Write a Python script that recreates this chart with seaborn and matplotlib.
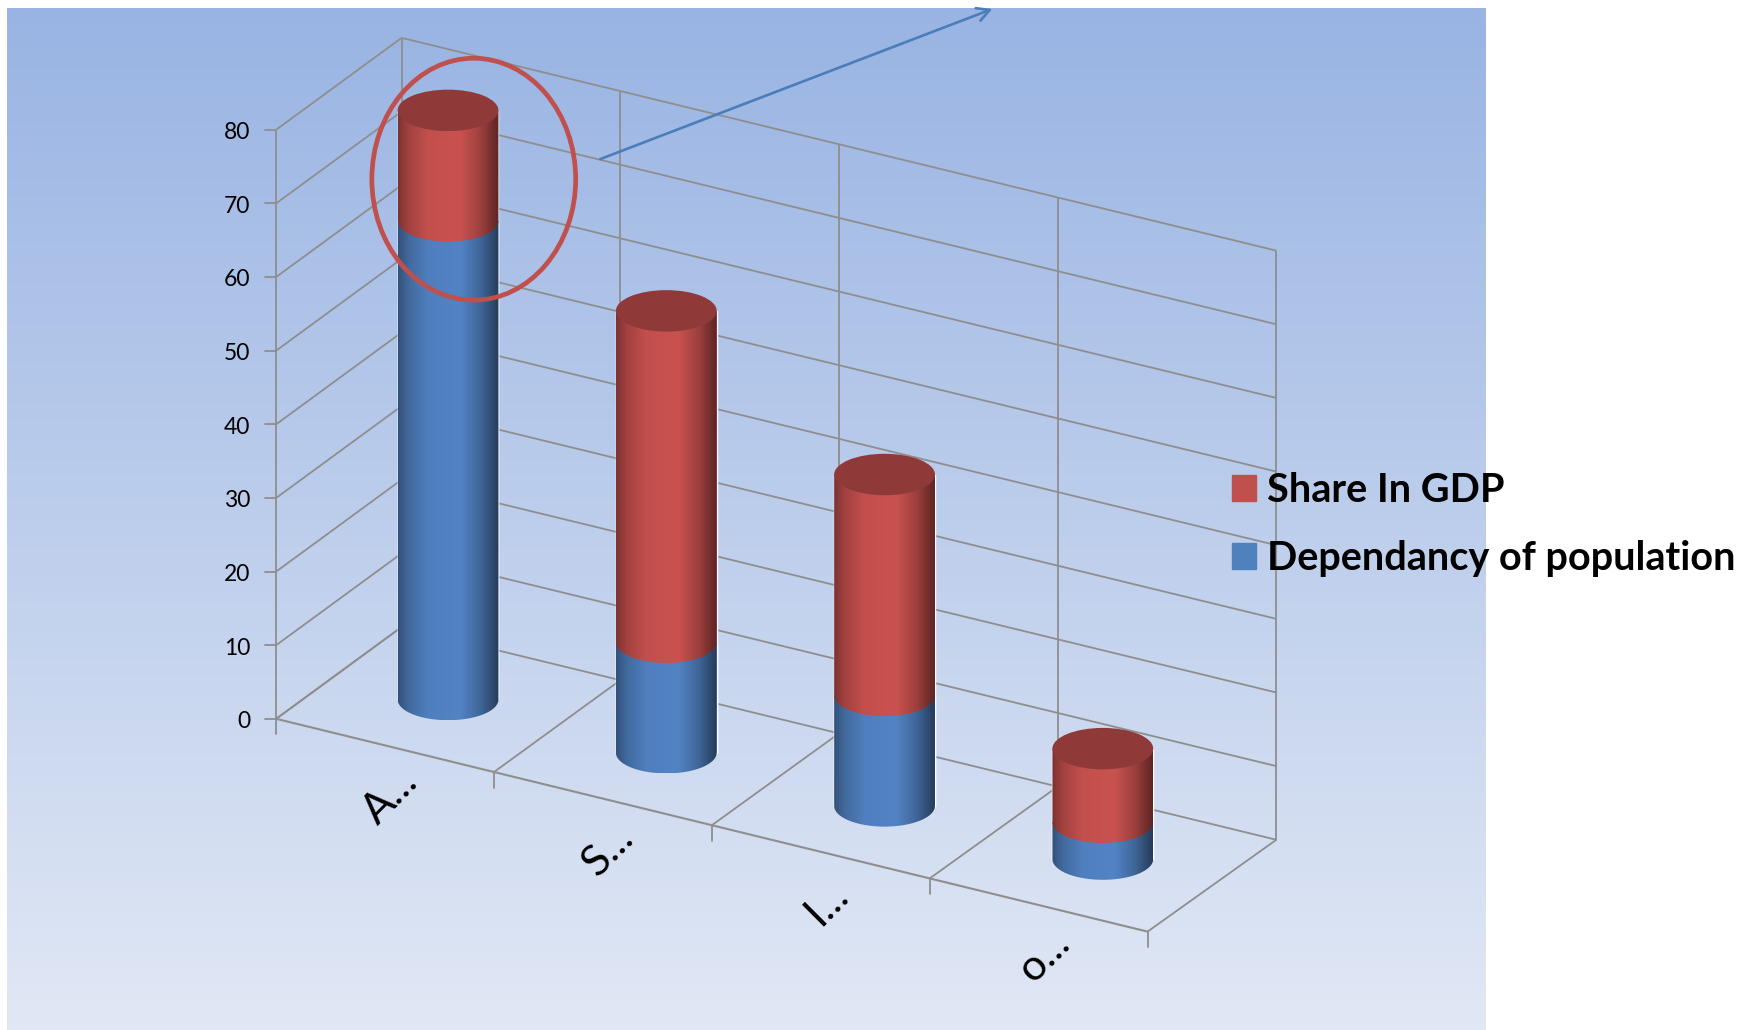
import numpy as np
import pandas as pd
import seaborn as sns
import matplotlib
matplotlib.use("Agg")
import matplotlib.pyplot as plt
from matplotlib.colors import LinearSegmentedColormap, to_rgb
from matplotlib.patches import Ellipse, Patch, PathPatch, Rectangle
from matplotlib.path import Path
from matplotlib.transforms import Affine2D

categories = ["A...", "S...", "I...", "o..."]
dependancy = [65, 15, 15, 5]
share_gdp = [15, 45, 30, 10]
value_ticks = [0, 10, 20, 30, 40, 50, 60, 70, 80]
series_labels = ["Share In GDP", "Dependancy of population"]

sns.set_theme(style="white")
plt.rcParams["font.family"] = ["Lato", "DejaVu Sans"]

W, H = 1756, 1030
S = 1.12
CAT_DX, CAT_DY = 194.5 * S, 47.5 * S
DEPTH_DX, DEPTH_DY = 112 * S, 82 * S
V_UNIT = 6.575 * S
OX, OY = 246.6 * S, 641.8 * S
XC0 = OX + CAT_DX / 2 + DEPTH_DX / 2
YB0 = OY + CAT_DY / 2 - DEPTH_DY / 2
K = CAT_DY / V_UNIT
RX = 45 * S / CAT_DX
RY = 18.5 * S / V_UNIT
SPREAD = 0.75 * S / CAT_DX


def px_x(px):
    return (px - XC0) / CAT_DX


def px_y(py):
    return (YB0 - py) / V_UNIT


def proj(c, v, d):
    return ((c - 0.5) + (d - 0.5) * DEPTH_DX / CAT_DX + d * c * SPREAD,
            v - (c - 0.5) * K + (d - 0.5) * DEPTH_DY / V_UNIT)


fig = plt.figure(figsize=(W / 100, H / 100), dpi=100, facecolor="white")
ax = fig.add_axes([0, 0, 1, 1])
limits = (px_x(0), px_x(W), px_y(H), px_y(0))

# background
bg_cmap = LinearSegmentedColormap.from_list("bg", ["#99B4E3", "#BDCEEC", "#E1E8F5"])
bg = ax.imshow(np.linspace(0, 1, 256)[:, None], cmap=bg_cmap, aspect="auto", zorder=0,
               extent=(px_x(7), px_x(1485.5), px_y(1030), px_y(8)), origin="upper")

GRID = "#8E8E8E"
LW = 1.3


def seg(a, b, lw=LW):
    ax.plot(*zip(proj(*a), proj(*b)), color=GRID, lw=lw, zorder=1, solid_capstyle="butt")


n = len(categories)
top = value_ticks[-1]
for v in value_ticks:
    seg((0, v, 0), (0, v, 1))
    seg((0, v, 1), (n, v, 1))
    # value tick
    x0, y0 = proj(0, v, 0)
    ax.plot([x0 - 10 * S / CAT_DX, x0], [y0, y0], color=GRID, lw=LW, zorder=1)
    ax.text(x0 - 23 * S / CAT_DX, y0 - 0.4, str(v), ha="right", va="center", fontsize=16.5, color="black")
for c in range(n + 1):
    seg((c, 0, 0), (c, 0, 1))
    seg((c, 0, 1), (c, top, 1))
    x0, y0 = proj(c, 0, 0)
    ax.plot([x0, x0], [y0, y0 - 14 * S / V_UNIT], color=GRID, lw=LW, zorder=1)
seg((0, 0, 0), (n, 0, 0), 1.5)
seg((0, 0, 0), (0, top, 0))

# bars through seaborn, moved onto the slanted floor
total = [a + b for a, b in zip(dependancy, share_gdp)]
frame = pd.DataFrame({"category": categories, "total": total, "dependancy": dependancy})
sns.barplot(data=frame, x="category", y="total", color="#C9524F", saturation=1,
            width=2 * RX, ax=ax, zorder=2)
sns.barplot(data=frame, x="category", y="dependancy", color="#5283C4", saturation=1,
            width=2 * RX, ax=ax, zorder=2)
bars = [p for p in ax.patches if isinstance(p, Rectangle)]
red_bars, blue_bars = bars[:n], bars[n:]

profile_x = [0, 0.10, 0.30, 0.62, 0.82, 1]
profile_v = [0.62, 0.80, 0.97, 1.0, 0.78, 0.46]
ramp = np.interp(np.linspace(0, 1, 128), profile_x, profile_v)


def body(xc, lo, hi, shift, colour):
    rgb = np.array(to_rgb(colour))
    img = (ramp[:, None] * rgb[None, :])[None, :, :]
    t = np.linspace(np.pi, 2 * np.pi, 60)
    verts = np.column_stack([xc + RX * np.cos(t), lo - shift + RY * np.sin(t)])
    verts = np.vstack([[xc - RX, hi - shift], verts, [xc + RX, hi - shift], [xc - RX, hi - shift]])
    im = ax.imshow(img, aspect="auto", zorder=3,
                   extent=(xc - RX, xc + RX, lo - shift - RY, hi - shift))
    clip = PathPatch(Path(verts), transform=ax.transData, fc="none", ec="none")
    ax.add_patch(clip)
    im.set_clip_path(clip)


for i in range(n):
    shift = i * K
    slide = (i + 0.5) * 0.5 * SPREAD
    for patch in (red_bars[i], blue_bars[i]):
        patch.set_transform(Affine2D().translate(slide, -shift) + ax.transData)
    xc = red_bars[i].get_x() + red_bars[i].get_width() / 2 + slide
    d = blue_bars[i].get_height()
    t_v = red_bars[i].get_height()
    body(xc, 0, d, shift, "#5283C4")
    body(xc, d, t_v, shift, "#C9524F")
    ax.add_patch(Ellipse((xc, t_v - shift), 2 * RX, 2 * RY, fc="#8F3A38", ec="none", zorder=4))

# category labels
label_offset = (0.025, -7.0)
for i, name in enumerate(categories):
    x0, y0 = proj(i + 0.5, 0, 0)
    ax.text(x0 + label_offset[0], y0 + label_offset[1], name, rotation=45, ha="center", va="center",
            rotation_mode="anchor", fontsize=31, color="black")

# annotation circle and arrow
ax.add_patch(Ellipse((px_x(423 * S), px_y(160 * S)), 182 * S / CAT_DX, 216 * S / V_UNIT,
                     fc="none", ec="#C0504D", lw=3.4, zorder=6))
ax.annotate("", xy=(px_x(886 * S), px_y(8 * S)), xytext=(px_x(536 * S), px_y(142 * S)),
            arrowprops=dict(arrowstyle="->,head_length=0.75,head_width=0.4", color="#4A7EBB", lw=1.9,
                            shrinkA=0, shrinkB=0), zorder=6)

ax.set_xlim(limits[0], limits[1])
ax.set_ylim(limits[2], limits[3])
ax.axis("off")

handles = [Patch(color="#C0504D", label=series_labels[0]), Patch(color="#4F81BD", label=series_labels[1])]
leg = ax.legend(handles=handles, loc="upper left", bbox_to_anchor=(1232 / W, 1 - 472 / H),
                bbox_transform=fig.transFigure, frameon=False, borderpad=0, borderaxespad=0,
                handlelength=0.6, handleheight=0.62, handletextpad=0.28, labelspacing=0.778,
                labelcolor="black",
                prop=dict(family=["Lato", "DejaVu Sans"], weight="bold", size=28.5))
leg.set_zorder(7)

fig.savefig("out.png", dpi=100, facecolor="white")
